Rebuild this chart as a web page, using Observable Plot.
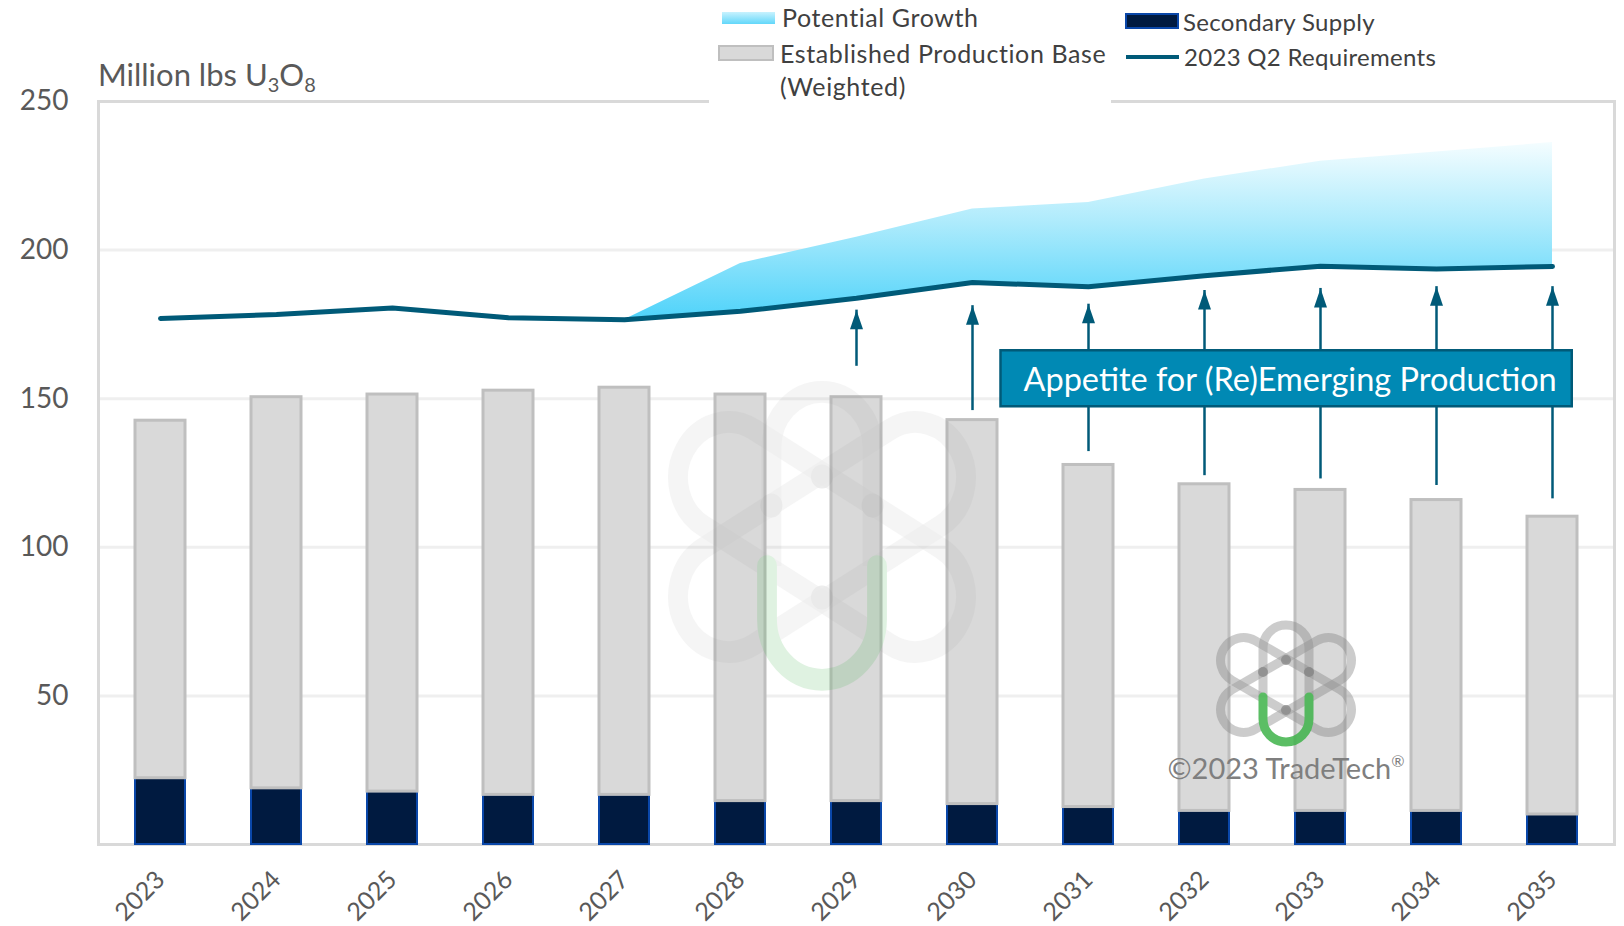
<!DOCTYPE html>
<html><head><meta charset="utf-8">
<script src="https://cdn.jsdelivr.net/npm/d3@7"></script>
<script src="https://cdn.jsdelivr.net/npm/@observablehq/plot@0.6"></script>
<style>
body{margin:0;background:#fff;font-family:Lato,sans-serif}
#wrap{position:relative;width:1624px;height:926px}
#overlay{position:absolute;left:0;top:0;pointer-events:none}
</style></head><body>
<svg width="0" height="0" style="position:absolute"><defs>
<linearGradient id="growthGrad" x1="0" y1="0" x2="0" y2="1">
<stop offset="0" stop-color="#f4fdff"/><stop offset="0.45" stop-color="#aeebfc"/><stop offset="1" stop-color="#4fd3fa"/>
</linearGradient>
<linearGradient id="swatchGrad" x1="0" y1="0" x2="0" y2="1">
<stop offset="0" stop-color="#c8f2fe"/><stop offset="1" stop-color="#62d7fa"/>
</linearGradient></defs></svg>
<div id="wrap"></div>
<script>
// ---- data (Million lbs U3O8) ----
const years = ["2023","2024","2025","2026","2027","2028","2029","2030","2031","2032","2033","2034","2035"];
const secondarySupply = [22.3,18.9,17.8,16.7,16.7,14.6,14.6,13.6,12.6,11.3,11.3,11.3,10.1];
const establishedBase = [120.3,131.6,133.6,136.0,137.0,136.8,135.9,129.2,115.1,109.9,108.0,104.6,100.2];
const requirements = [177.0,178.3,180.5,177.2,176.6,179.4,183.8,189.1,187.7,191.4,194.6,193.6,194.5];
const growthYears = ["2027","2028","2029","2030","2031","2032","2033","2034","2035"];
const potentialGrowth = [0,16.1,20.5,24.7,28.3,32.5,35.3,39.4,41.7];
const arrowYears = ["2029","2030","2031","2032","2033","2034","2035"];
const arrowFrom = [160.9,146.0,132.2,124.1,123.0,120.8,116.3];
const arrowTo = [179.8,181.3,181.8,186.4,187.1,187.7,187.7];
const yTicks = [50,100,150,200,250];
const gridTicks = [50,100,150,200];
const boxLabel = "Appetite for (Re)Emerging Production";
const boxAnchor = {year: "2030", value: 156};
const legendItems = ["Potential Growth","Established Production Base","(Weighted)","Secondary Supply","2023 Q2 Requirements"];
const yTitle = ["Million lbs U","3","O","8"];
const copyright = "©2023 TradeTech";

// ---- build rows ----
const rows = years.map((year,i)=>({year, secondary: secondarySupply[i], established: establishedBase[i], req: requirements[i]}));
const growthRows = growthYears.map((year,i)=>({year, req: requirements[years.indexOf(year)], growth: potentialGrowth[i]}));
const arrowRows = arrowYears.map((year,i)=>({year, from: arrowFrom[i], to: arrowTo[i]}));

const teal = "#005a78";
const arrowHead = {draw(ctx){ ctx.moveTo(0,0); ctx.lineTo(6.5,19); ctx.lineTo(-6.5,19); ctx.closePath(); }};

const chart = Plot.plot({
  width: 1624, height: 926,
  marginLeft: 98, marginRight: 10, marginTop: 101, marginBottom: 82,
  style: {fontFamily: "Lato, sans-serif", color: "#595959", background: "transparent"},
  x: {type: "band", domain: years, paddingInner: 0.57, paddingOuter: 0.285, axis: null},
  y: {domain: [0,250], axis: null},
  marks: [
    Plot.gridY(gridTicks, {stroke: "#efefef", strokeWidth: 3, strokeOpacity: 1}),
    Plot.frame({stroke: "#d9d9d9", strokeWidth: 3}),
    Plot.axisY(yTicks, {tickSize: 0, tickPadding: 30, fontSize: 28, tickFormat: d => String(d), label: null}),
    Plot.axisX({tickRotate: -45, tickSize: 0, tickPadding: 31, fontSize: 25, dx: 0, label: null}),
    Plot.areaY(growthRows, {x: "year", y1: "req", y2: d => d.req + d.growth, fill: "url(#growthGrad)"}),
    Plot.barY(rows, {x: "year", y1: 0, y2: "secondary", fill: "#001a40", stroke: "#0a47a9", strokeWidth: 2}),
    Plot.barY(rows, {x: "year", y1: "secondary", y2: d => d.secondary + d.established, fill: "#d9d9d9", stroke: "#bfbfbf", strokeWidth: 3}),
    Plot.line(rows, {x: "year", y: "req", stroke: teal, strokeWidth: 5, strokeLinecap: "round", strokeLinejoin: "round"}),
    Plot.ruleX(arrowRows, {x: "year", y1: "from", y2: "to", stroke: teal, strokeWidth: 2.5}),
    Plot.dot(arrowRows, {x: "year", y: "to", symbol: arrowHead, fill: teal, stroke: "none", r: 5}),
    Plot.text([boxLabel], {x: () => boxAnchor.year, y: () => boxAnchor.value, text: d => d, textAnchor: "start", dx: 51, fill: "white", fontSize: 32.5})
  ]
});
const wrap = document.getElementById("wrap");
wrap.append(chart);

// box behind annotation text
const ns = "http://www.w3.org/2000/svg";
for (const t of chart.querySelectorAll("text")) {
  if (t.textContent === boxLabel) {
    const bb = t.getBBox();
    const r = document.createElementNS(ns, "rect");
    r.setAttribute("x", bb.x - 23); r.setAttribute("width", bb.width + 38);
    r.setAttribute("y", bb.y - 9); r.setAttribute("height", bb.height + 17);
    r.setAttribute("fill", "#0089b4"); r.setAttribute("stroke", teal); r.setAttribute("stroke-width", 2.5);
    if (t.getAttribute("transform")) r.setAttribute("transform", t.getAttribute("transform"));
    t.parentNode.insertBefore(r, t);
  }
}

// logo
function logo(cx, cy, sx, sy, op, uw) {
  const gray = "#8a8a8a";
  return `<g transform="translate(${cx},${cy}) scale(${sx},${sy})" opacity="${op}" fill="none" stroke-width="9">
    <rect x="-72" y="-23" width="144" height="46" rx="23" transform="rotate(30)" stroke="${gray}" stroke-opacity="0.5"/>
    <rect x="-72" y="-23" width="144" height="46" rx="23" transform="rotate(-30)" stroke="${gray}" stroke-opacity="0.5"/>
    <path d="M-23 12 L-23 -37 A23 23 0 0 1 23 -37 L23 12" stroke="${gray}" stroke-opacity="0.5"/>
    <path d="M${-uw} 12 L${-uw} 34 A${uw} ${uw} 0 0 0 ${uw} 34 L${uw} 12" stroke="#3fb34a" stroke-linecap="round"/>
    <g fill="#777" stroke="none" opacity="0.8">
      <circle cx="0" cy="-25" r="5"/><circle cx="-23" cy="-13" r="5"/><circle cx="23" cy="-13" r="5"/><circle cx="0" cy="25" r="5"/>
    </g>
  </g>`;
}

const overlay = `<svg id="overlay" width="1624" height="926" font-family="Lato, sans-serif">
  ${logo(822, 537, 2.2, 2.42, 0.16, 25)}
  ${logo(1286, 685, 1, 1, 0.85, 23)}
  <text x="1286" y="779" text-anchor="middle" font-size="29" fill="#7f7f7f">${copyright}<tspan font-size="16" dy="-12">®</tspan></text>
  <text x="98" y="86" font-size="31" fill="#595959">${yTitle[0]}<tspan font-size="20" dy="6">${yTitle[1]}</tspan><tspan dy="-6">${yTitle[2]}</tspan><tspan font-size="20" dy="6">${yTitle[3]}</tspan></text>
  <rect x="709" y="0" width="402" height="104" fill="#fff"/>
  <g fill="#404040" dominant-baseline="central">
    <rect x="722" y="12" width="53" height="12" fill="url(#swatchGrad)"/>
    <rect x="719" y="46" width="54" height="14" fill="#d9d9d9" stroke="#bfbfbf" stroke-width="2"/>
    <g font-size="25" letter-spacing="0.6">
      <text x="782" y="17">${legendItems[0]}</text>
      <text x="780" y="53">${legendItems[1]}</text>
      <text x="780" y="86">${legendItems[2]}</text>
    </g>
    <rect x="1126" y="14" width="52" height="14" fill="#001a40" stroke="#0a47a9" stroke-width="2"/>
    <line x1="1126" x2="1179" y1="57" y2="57" stroke="${teal}" stroke-width="4"/>
    <g font-size="24" letter-spacing="0.3">
      <text x="1183" y="21">${legendItems[3]}</text>
      <text x="1184" y="56">${legendItems[4]}</text>
    </g>
  </g>
</svg>`;
wrap.insertAdjacentHTML("beforeend", overlay);
</script>
</body></html>
